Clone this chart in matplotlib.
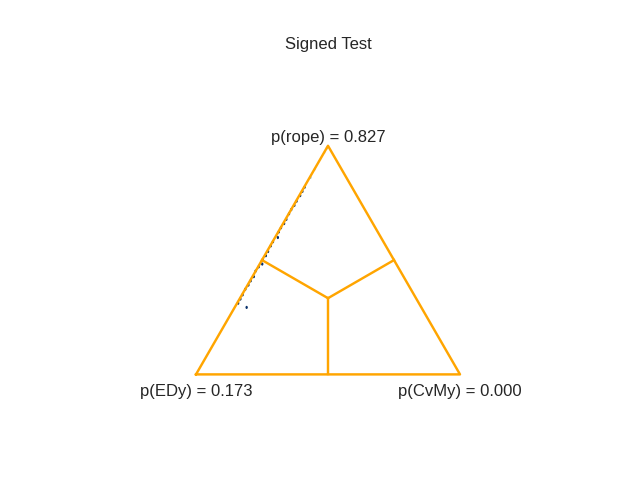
import numpy as np
import matplotlib
matplotlib.use("Agg")
from matplotlib import pyplot as plt
from matplotlib.lines import Line2D

plt.rcParams['font.family'] = ['Liberation Sans', 'DejaVu Sans']
plt.rcParams['font.size'] = 12
plt.rcParams['text.color'] = '#262626'
plt.rcParams['axes.titlesize'] = 12

names = ['EDy', 'CvMy']
p_left = 0.173
p_rope = 0.827
p_right = 0.000

# posterior samples: (left, rope, right) and how many of each
s_rope = [0.293, 0.31, 0.33, 0.35, 0.37, 0.39, 0.41, 0.43, 0.45, 0.47, 0.486,
          0.50, 0.52, 0.54, 0.56, 0.58, 0.599, 0.62, 0.64, 0.66, 0.68, 0.70,
          0.72, 0.74, 0.76, 0.78, 0.80, 0.82, 0.86, 0.90, 0.94, 0.97, 0.99]
s_right = [0.0465, 0.003, 0.002, 0.003, 0.002, 0.003, 0.002, 0.003, 0.002, 0.003, 0.008,
           0.002, 0.003, 0.002, 0.003, 0.002, 0.0115, 0.003, 0.002, 0.003, 0.002, 0.003,
           0.002, 0.003, 0.002, 0.003, 0.002, 0.002, 0.002, 0.002, 0.002, 0.002, 0.001]
s_count = [1, 2, 3, 2, 3, 4, 3, 4, 5, 4, 1,
           5, 6, 5, 6, 7, 1, 6, 8, 7, 9, 8,
           10, 9, 12, 14, 16, 20, 300, 400, 500, 450, 350]


def project(points):
    p1, p2, p3 = points.T / np.sqrt(3)
    x = (p2 - p1) * np.cos(np.pi / 6) + 0.5
    y = p3 - (p1 + p2) * np.sin(np.pi / 6) + 1 / (2 * np.sqrt(3))
    return np.vstack((x, y)).T


rope = np.array(s_rope)
right = np.array(s_right)
left = 1 - rope - right
sample = np.repeat(np.vstack((left, rope, right)).T, s_count, axis=0)

vert0 = project(np.array(
    [[0.3333, 0.3333, 0.3333], [0.5, 0.5, 0], [0.5, 0, 0.5], [0, 0.5, 0.5]]))

fig, ax = plt.subplots(figsize=(6.4, 4.8), dpi=100)
ax.set_aspect('equal', 'box')
ax.set_axis_off()
ax.add_line(Line2D([0, 0.5, 1.0, 0], [0, np.sqrt(3) / 2, 0, 0],
                   color='orange', lw=1.75))
for i in (1, 2, 3):
    ax.add_line(Line2D([vert0[0, 0], vert0[i, 0]], [vert0[0, 1], vert0[i, 1]],
                       color='orange', lw=1.75))

ax.text(0, -0.065, 'p({}) = {:.3f}'.format(names[0], p_left),
        ha='center', va='center')
ax.text(0.5, np.sqrt(3) / 2 + 0.03, 'p(rope) = {:.3f}'.format(p_rope),
        ha='center', va='center')
ax.text(1, -0.065, 'p({}) = {:.3f}'.format(names[1], p_right),
        ha='center', va='center')

tripts = project(sample[:, [0, 2, 1]])
ax.hexbin(tripts[:, 0], tripts[:, 1], mincnt=1, cmap=plt.cm.Blues_r)
ax.set_xlim(-0.2, 1.2)
ax.set_ylim(-0.2, 1.2)
ax.set_title('Signed Test')

plt.savefig('out.png', dpi=100)
